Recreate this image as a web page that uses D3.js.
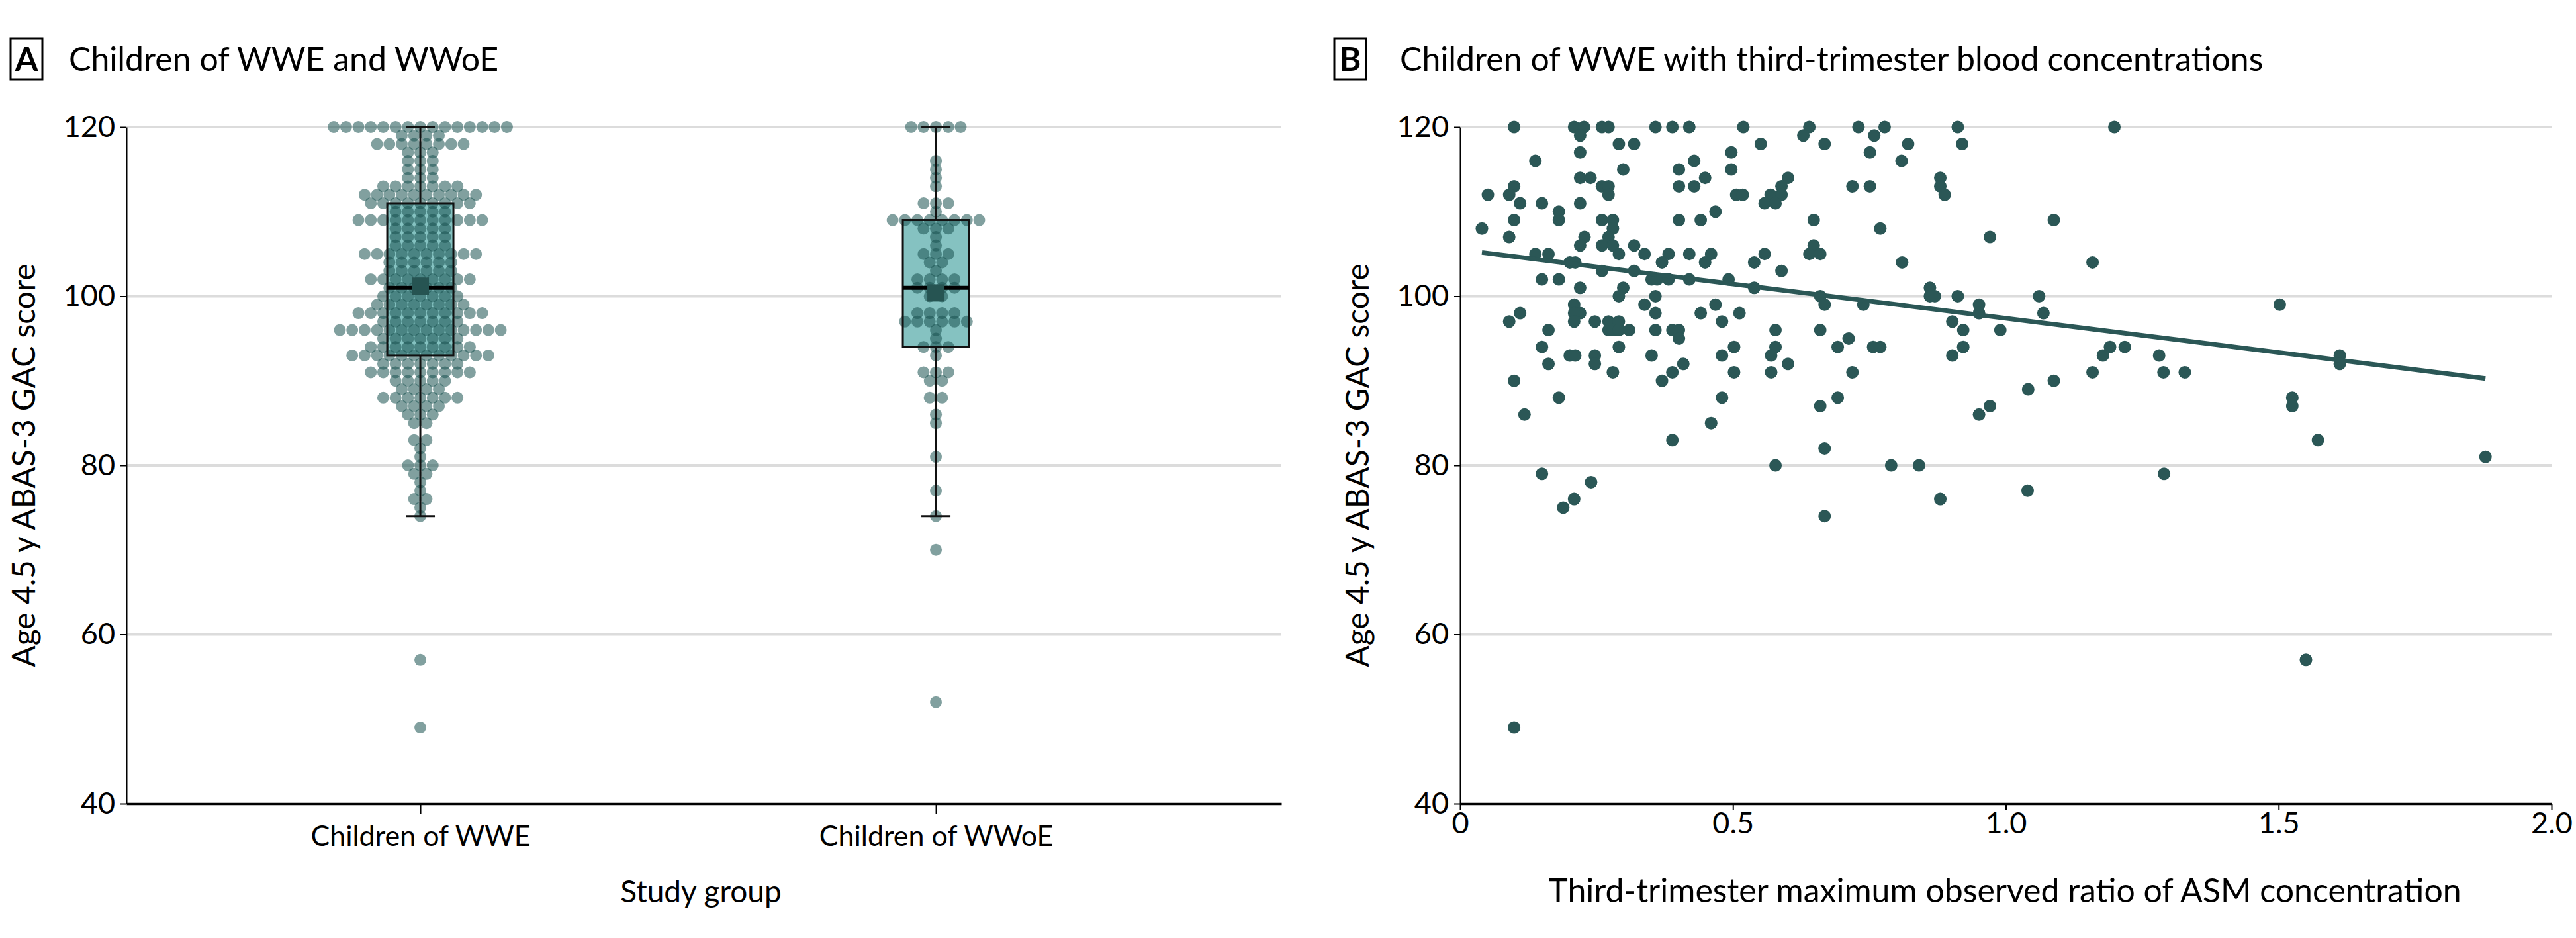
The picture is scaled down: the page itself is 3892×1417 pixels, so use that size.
<!DOCTYPE html>
<html>
<head>
<meta charset="utf-8">
<script src="https://cdn.jsdelivr.net/npm/d3@7"></script>
<style>
  body { margin: 0; background: #fff; }
  text { font-family: Lato, "Liberation Sans", sans-serif; fill: #000; }
</style>
</head>
<body>
<div id="chart"></div>
<script>
// ---- Panel A: beeswarm rows (score -> number of children at that score)
const groups = ["Children of WWE", "Children of WWoE"];

const wweScores = [120, 119, 118, 117, 116, 115, 114, 113, 112, 111, 110, 109, 108, 107, 106, 105, 104, 103, 102, 101,
  100, 99, 98, 97, 96, 95, 94, 93, 92, 91, 90, 89, 88, 87, 86, 85, 83, 82, 81, 80, 79, 78, 77, 76, 75, 74, 57, 49];
const wweCounts = [15, 4, 8, 3, 3, 3, 3, 7, 10, 9, 5, 11, 5, 5, 5, 10, 6, 6, 9, 6,
  7, 8, 11, 7, 14, 7, 9, 12, 7, 9, 5, 4, 7, 4, 3, 2, 2, 1, 1, 3, 2, 1, 1, 2, 1, 1, 1, 1];

const wwoeScores = [120, 116, 115, 114, 113, 111, 110, 109, 108, 107, 106, 105, 104, 103, 102, 101, 100, 98, 97, 96,
  95, 94, 93, 91, 90, 88, 86, 85, 81, 77, 74, 70, 52];
const wwoeCounts = [5, 1, 1, 1, 1, 3, 1, 8, 3, 1, 1, 3, 2, 1, 4, 4, 2, 4, 6, 1,
  1, 3, 1, 3, 2, 2, 1, 1, 1, 1, 1, 1, 1];

// box plot summary per group
const boxLow = [74, 74];
const boxQ1 = [93, 94];
const boxMedian = [101, 101];
const boxQ3 = [111, 109];
const boxHigh = [120, 120];
const groupMean = [101.2, 100.4];

const scoreTicks = [40, 60, 80, 100, 120];
const gridScores = [60, 80, 100, 120];

// ---- Panel B: [max observed ratio, GAC score]
const concPoints = [
  [0.099,120],[0.209,120],[0.227,120],[0.220,119],[0.260,120],[0.272,120],[0.358,120],[0.389,120],[0.420,120],
  [0.291,118],[0.319,118],[0.220,117],[0.497,117],[0.138,116],[0.429,116],[0.299,115],[0.401,115],[0.497,115],
  [0.220,114],[0.239,114],[0.449,114],[0.099,113],[0.260,113],[0.272,113],[0.401,113],[0.429,113],
  [0.051,112],[0.090,112],[0.272,112],[0.506,112],[0.518,112],
  [0.110,111],[0.150,111],[0.220,111],[0.181,110],[0.468,110],
  [0.181,109],[0.099,109],[0.260,109],[0.280,109],[0.401,109],[0.441,109],
  [0.040,108],[0.280,108],[0.090,107],[0.228,107],[0.272,107],
  [0.220,106],[0.260,106],[0.280,106],[0.319,106],
  [0.138,105],[0.162,105],[0.291,105],[0.338,105],[0.382,105],[0.420,105],[0.460,105],
  [0.370,104],[0.449,104],[0.201,104],[0.211,104],[0.260,103],[0.319,103],
  [0.150,102],[0.181,102],[0.351,102],[0.361,102],[0.382,102],[0.420,102],[0.492,102],
  [0.220,101],[0.299,101],[0.291,100],[0.358,100],[0.338,99],[0.468,99],[0.209,99],
  [0.110,98],[0.220,98],[0.209,98],[0.358,98],[0.441,98],[0.512,98],
  [0.090,97],[0.209,97],[0.247,97],[0.272,97],[0.291,97],[0.480,97],
  [0.162,96],[0.272,96],[0.280,96],[0.291,96],[0.310,96],[0.358,96],[0.389,96],[0.401,96],
  [0.401,95],[0.150,94],[0.291,94],[0.502,94],
  [0.201,93],[0.211,93],[0.247,93],[0.351,93],[0.480,93],
  [0.162,92],[0.247,92],[0.409,92],[0.280,91],[0.389,91],[0.502,91],
  [0.370,90],[0.099,90],[0.181,88],[0.480,88],[0.118,86],[0.460,85],[0.389,83],
  [0.150,79],[0.240,78],[0.209,76],[0.189,75],[0.099,49],
  [0.519,120],[0.640,120],[0.629,119],[0.730,120],[0.778,120],[0.759,119],[0.912,120],
  [0.551,118],[0.668,118],[0.821,118],[0.920,118],[0.751,117],[0.809,116],
  [0.601,114],[0.589,113],[0.719,113],[0.751,113],[0.880,114],[0.880,113],[0.888,112],
  [0.569,112],[0.589,112],[0.558,111],[0.578,111],
  [0.648,109],[0.770,108],[0.971,107],
  [0.539,104],[0.558,105],[0.589,103],[0.648,106],[0.640,105],[0.660,105],[0.810,104],
  [0.539,101],[0.660,100],[0.668,99],[0.739,99],[0.861,101],[0.861,100],[0.870,100],[0.912,100],
  [0.951,99],[0.951,98],[0.902,97],[0.922,96],[0.990,96],[0.578,96],[0.660,96],
  [0.712,95],[0.692,94],[0.578,94],[0.570,93],[0.757,94],[0.770,94],[0.922,94],[0.902,93],
  [0.601,92],[0.570,91],[0.719,91],
  [0.692,88],[0.660,87],[0.971,87],[0.951,86],[0.668,82],
  [0.578,80],[0.790,80],[0.841,80],[0.880,76],[0.668,74],
  [1.199,120],[1.088,109],[1.159,104],[1.061,100],[1.069,98],[1.502,99],
  [1.191,94],[1.178,93],[1.218,94],[1.281,93],[1.159,91],[1.289,91],[1.328,91],
  [1.041,89],[1.088,90],[1.525,88],[1.525,87],
  [1.612,93],[1.612,92],[1.572,83],[1.879,81],
  [1.040,77],[1.290,79],[1.550,57]
];
const fitIntercept = 105.5;
const fitSlope = -8.1;
const ratioTicks = [0, 0.5, 1.0, 1.5, 2.0];

const width = 3892;
const height = 1417;
const plotTop = 192, plotBottom = 1214;
const dotTeal = "#2b5756";

const svg = d3.select("#chart")
  .append("svg")
  .attr("width", width)
  .attr("height", height);

const y = d3.scaleLinear().domain([40, 120]).range([plotBottom, plotTop]);

// ============ panel A ============
const xA = d3.scaleLinear().domain([-0.57, 1.67]).range([191, 1936]);
const gA = svg.append("g");

gA.selectAll(".grid")
  .data(gridScores)
  .join("line")
    .attr("x1", xA.range()[0]).attr("x2", xA.range()[1])
    .attr("y1", d => y(d)).attr("y2", d => y(d))
    .attr("stroke", "#dcdcdc")
    .attr("stroke-width", 4);

const boxW = 100;
gA.selectAll(".boxfill")
  .data(groups)
  .join("rect")
    .attr("x", (d, i) => xA(i) - boxW / 2)
    .attr("y", (d, i) => y(boxQ3[i]))
    .attr("width", boxW)
    .attr("height", (d, i) => y(boxQ1[i]) - y(boxQ3[i]))
    .attr("fill", "#85c2c1");

// beeswarm dots: each row centered on the group
const dotStep = 18.7;
const swarm = [];
[[wweScores, wweCounts], [wwoeScores, wwoeCounts]].forEach(([scores, counts], gi) => {
  scores.forEach((s, k) => {
    const n = counts[k];
    for (let i = 0; i < n; i++) {
      swarm.push({ g: gi, score: s, off: i - (n - 1) / 2 });
    }
  });
});

gA.selectAll(".swarm")
  .data(swarm)
  .join("circle")
    .attr("cx", d => xA(d.g) + d.off * dotStep)
    .attr("cy", d => y(d.score))
    .attr("r", 9)
    .attr("fill", "#1a5250")
    .attr("fill-opacity", 0.55);

// box outline, whiskers, median, mean
gA.selectAll(".boxline")
  .data(groups)
  .join("rect")
    .attr("x", (d, i) => xA(i) - boxW / 2)
    .attr("y", (d, i) => y(boxQ3[i]))
    .attr("width", boxW)
    .attr("height", (d, i) => y(boxQ1[i]) - y(boxQ3[i]))
    .attr("fill", "none")
    .attr("stroke", "#111")
    .attr("stroke-width", 3);

const whiskers = [];
groups.forEach((g, i) => {
  whiskers.push({ i, from: boxQ3[i], to: boxHigh[i] });
  whiskers.push({ i, from: boxQ1[i], to: boxLow[i] });
});
gA.selectAll(".whisker")
  .data(whiskers)
  .join("line")
    .attr("x1", d => xA(d.i)).attr("x2", d => xA(d.i))
    .attr("y1", d => y(d.from)).attr("y2", d => y(d.to))
    .attr("stroke", "#111")
    .attr("stroke-width", 3);

gA.selectAll(".cap")
  .data(whiskers)
  .join("line")
    .attr("x1", d => xA(d.i) - 22).attr("x2", d => xA(d.i) + 22)
    .attr("y1", d => y(d.to)).attr("y2", d => y(d.to))
    .attr("stroke", "#111")
    .attr("stroke-width", 3);

gA.selectAll(".median")
  .data(groups)
  .join("line")
    .attr("x1", (d, i) => xA(i) - boxW / 2).attr("x2", (d, i) => xA(i) + boxW / 2)
    .attr("y1", (d, i) => y(boxMedian[i])).attr("y2", (d, i) => y(boxMedian[i]))
    .attr("stroke", "#000")
    .attr("stroke-width", 6);

gA.selectAll(".mean")
  .data(groups)
  .join("rect")
    .attr("x", (d, i) => xA(i) - 13)
    .attr("y", (d, i) => y(groupMean[i]) - 13)
    .attr("width", 26)
    .attr("height", 26)
    .attr("fill", "#265452");

// axes A
const yAxisA = gA.append("g")
  .attr("transform", `translate(${xA.range()[0]},0)`)
  .call(d3.axisLeft(y).tickValues(scoreTicks).tickSize(9).tickPadding(8).tickSizeOuter(0));

const xAxisA = gA.append("g")
  .attr("transform", `translate(0,${plotBottom})`)
  .call(d3.axisBottom(xA).tickValues([0, 1]).tickFormat(i => groups[i]).tickSize(16).tickPadding(17).tickSizeOuter(0));

// ============ panel B ============
const xB = d3.scaleLinear().domain([0, 2]).range([2206, 3855]);
const gB = svg.append("g");

gB.selectAll(".grid")
  .data(gridScores)
  .join("line")
    .attr("x1", xB.range()[0]).attr("x2", xB.range()[1])
    .attr("y1", d => y(d)).attr("y2", d => y(d))
    .attr("stroke", "#dcdcdc")
    .attr("stroke-width", 4);

gB.selectAll(".pt")
  .data(concPoints)
  .join("circle")
    .attr("cx", d => xB(d[0]))
    .attr("cy", d => y(d[1]))
    .attr("r", 9.5)
    .attr("fill", dotTeal);

const xExtent = d3.extent(concPoints, d => d[0]);
gB.append("line")
  .attr("x1", xB(xExtent[0])).attr("x2", xB(xExtent[1]))
  .attr("y1", y(fitIntercept + fitSlope * xExtent[0]))
  .attr("y2", y(fitIntercept + fitSlope * xExtent[1]))
  .attr("stroke", dotTeal)
  .attr("stroke-width", 7);

const yAxisB = gB.append("g")
  .attr("transform", `translate(${xB.range()[0]},0)`)
  .call(d3.axisLeft(y).tickValues(scoreTicks).tickSize(9).tickPadding(8).tickSizeOuter(0));

const xAxisB = gB.append("g")
  .attr("transform", `translate(0,${plotBottom})`)
  .call(d3.axisBottom(xB).tickValues(ratioTicks)
    .tickFormat(d => d === 0 ? "0" : d3.format(".1f")(d))
    .tickSize(10).tickPadding(3).tickSizeOuter(0));

// axis styling
[yAxisA, yAxisB].forEach(a => {
  a.select(".domain").attr("stroke", "#000").attr("stroke-width", 2);
  a.selectAll(".tick line").attr("stroke", "#000").attr("stroke-width", 2);
});
[xAxisA, xAxisB].forEach(a => {
  a.select(".domain").attr("stroke", "#000").attr("stroke-width", 3.5);
  a.selectAll(".tick line").attr("stroke", "#000").attr("stroke-width", 2);
});
svg.selectAll(".tick text")
  .attr("font-size", 45)
  .attr("font-family", "Lato, 'Liberation Sans', sans-serif")
  .attr("fill", "#000");
xAxisA.selectAll(".tick text").attr("font-size", 43);

// ============ titles and labels ============
const panels = [
  { letter: "A", boxX: 16, textX: 104, title: "Children of WWE and WWoE" },
  { letter: "B", boxX: 2016, textX: 2115, title: "Children of WWE with third-trimester blood concentrations" }
];

svg.selectAll(".lbox")
  .data(panels)
  .join("rect")
    .attr("x", d => d.boxX)
    .attr("y", 58)
    .attr("width", 48)
    .attr("height", 62)
    .attr("fill", "none")
    .attr("stroke", "#000")
    .attr("stroke-width", 3);

svg.selectAll(".lletter")
  .data(panels)
  .join("text")
    .attr("x", d => d.boxX + 24)
    .attr("y", 107)
    .attr("text-anchor", "middle")
    .attr("font-size", 50)
    .attr("font-weight", "bold")
    .text(d => d.letter);

svg.selectAll(".ptitle")
  .data(panels)
  .join("text")
    .attr("x", d => d.textX)
    .attr("y", 107)
    .attr("font-size", 50)
    .text(d => d.title);

const yLabelText = "Age 4.5 y ABAS-3 GAC score";
svg.selectAll(".ylab")
  .data([53, 2068])
  .join("text")
    .attr("transform", d => `translate(${d},${(plotTop + plotBottom) / 2}) rotate(-90)`)
    .attr("text-anchor", "middle")
    .attr("font-size", 48)
    .text(yLabelText);

svg.append("text")
  .attr("x", 1059)
  .attr("y", 1363)
  .attr("text-anchor", "middle")
  .attr("font-size", 46)
  .text("Study group");

svg.append("text")
  .attr("x", 3029)
  .attr("y", 1363)
  .attr("text-anchor", "middle")
  .attr("font-size", 50)
  .text("Third-trimester maximum observed ratio of ASM concentration");
</script>
</body>
</html>
